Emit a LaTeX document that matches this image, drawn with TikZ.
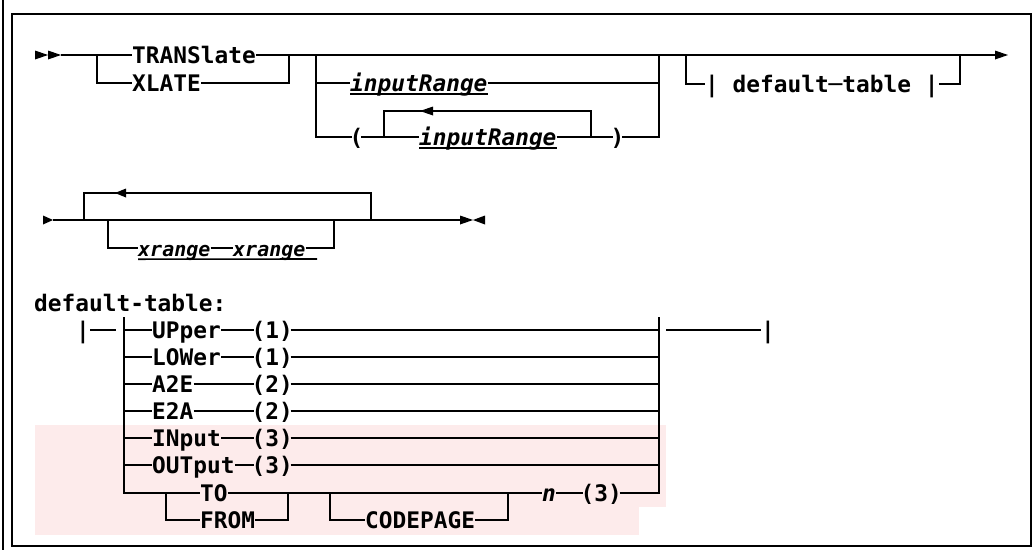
\documentclass[tikz,border=0pt]{standalone}
\usepackage{fontspec}
\setmainfont{DejaVu Sans Mono}
\definecolor{hlpink}{RGB}{253,235,235}
\tikzset{
  ln/.style={line width=1.8pt},
  ul/.style={line width=1.6pt},
  frm/.style={line width=1.1pt},
  kw/.style={inner sep=0pt, anchor=west, text height=16pt, text depth=0pt,
    font=\fontsize{22.8}{24}\selectfont\bfseries},
  var/.style={kw, font=\fontsize{22.8}{24}\selectfont\bfseries\itshape},
  varsm/.style={kw, font=\fontsize{20}{22}\selectfont\bfseries\itshape},
  par/.style={kw, inner xsep=-2.5pt},
  tip/.style={fill=black}
}
\begin{document}
\begin{tikzpicture}[x=1pt,y=-1pt]
\useasboundingbox (0,0) rectangle (1033,550);
% frame
\draw[frm] (3,0) -- (3,550);
\draw[frm] (12,14) rectangle (1031,546);
% highlight
\fill[hlpink] (35,425) rectangle (666,507);
\fill[hlpink] (35,507) rectangle (639,535);

% ---------- row 1 ----------
\fill[tip] (35,50.5) -- (48,55) -- (35,59.5) -- cycle;
\fill[tip] (48,50.5) -- (61,55) -- (48,59.5) -- cycle;
\coordinate (s1) at (61,55);
\node[kw] (TR) at (132,55) {TRANSlate};
\node[kw] (XL) at (132,83) {XLATE};
\coordinate (a1) at (97,55);
\coordinate (a2) at (289,55);
\coordinate (b1) at (316,55);
\coordinate (b2) at (659,55);
\coordinate (c1) at (686,55);
\coordinate (c2) at (960,55);
\coordinate (e1) at (995,55);
\draw[ln] (s1) -- (TR.west);
\draw[ln] (a1) |- (XL.west);
\draw[ln] (XL.east) -| (a2);
\draw[ln] (TR.east) -- (e1);
\fill[tip] (1008,55) -- (995,50.5) -- (995,59.5) -- cycle;
% group 2
\node[var] (IR1) at (350,83) {inputRange};
\node[par] (LP) at (352,137) {(};
\node[var] (IR2) at (419,137) {inputRange};
\node[par] (RP) at (613,137) {)};
\draw[ln] (b1) |- (IR1.west);
\draw[ln] (IR1.east) -| (b2);
\draw[ln] (b1) |- (LP.west);
\draw[ln] (LP.east) -- (IR2.west);
\draw[ln] (IR2.east) -- (RP.west);
\draw[ln] (RP.east) -| (b2);
\draw[ul] ([yshift=-3pt]IR1.south west) -- ([yshift=-3pt]IR1.south east);
\draw[ul] ([yshift=-3pt]IR2.south west) -- ([yshift=-3pt]IR2.south east);
\coordinate (l1) at (384,137);
\coordinate (l1t) at (384,111);
\coordinate (l2t) at (591,111);
\coordinate (l2) at (591,137);
\draw[ln] (l1) -- (l1t) -- (l2t) -- (l2);
\fill[tip] (420,111) -- (433,106.5) -- (433,115.5) -- cycle;
% group 3
\node[kw] (DT) at (705,84) {| default─table |};
\draw[ln] (c1) |- (DT.west);
\draw[ln] (DT.east) -| (c2);

% ---------- row 2 ----------
\fill[tip] (43,215.5) -- (53,220) -- (43,224.5) -- cycle;
\coordinate (s2) at (53,220);
\coordinate (e2) at (460,220);
\draw[ln] (s2) -- (e2);
\coordinate (m1) at (84,220);
\coordinate (m1t) at (84,193);
\coordinate (m2t) at (371,193);
\coordinate (m2) at (371,220);
\draw[ln] (m1) -- (m1t) -- (m2t) -- (m2);
\fill[tip] (115,193) -- (126,188.5) -- (126,197.5) -- cycle;
\node[varsm] (XR1) at (138,248) {xrange};
\node[varsm] (XR2) at (233,248) {xrange};
\coordinate (o1) at (108,220);
\coordinate (o2) at (334,220);
\draw[ln] (o1) |- (XR1.west);
\draw[ln] (XR1.east) -- (XR2.west);
\draw[ln] (XR2.east) -| (o2);
\coordinate (u2) at (317,259);
\draw[ul] ([yshift=-3pt]XR1.south west) -- (u2);
\fill[tip] (473,220) -- (460,215.5) -- (460,224.5) -- cycle;
\fill[tip] (473,220) -- (485,215.5) -- (485,224.5) -- cycle;

% ---------- default-table ----------
\node[kw] (DTH) at (34,303) {default-table:};
\node[kw] (bar1) at (76,330) {|};
\coordinate (d2) at (116,330);
\draw[ln] (bar1.east) -- (d2);
\coordinate (vL) at (124,317);
\coordinate (vR) at (659,317);
\node[kw] (bar2) at (761,330) {|};
\coordinate (x1) at (666,330);
\draw[ln] (x1) -- (bar2.west);

\foreach \i/\y/\k/\p in {1/330/UPper/(1), 2/357/LOWer/(1), 3/384/A2E/(2),
    4/411/E2A/(2), 5/438/INput/(3), 6/465/OUTput/(3)} {
  \node[kw] (k\i) at (152,\y) {\k};
  \node[par] (p\i) at (254,\y) {\p};
  \coordinate (L\i) at (124,\y);
  \coordinate (R\i) at (659,\y);
  \draw[ln] (L\i) -- (k\i.west);
  \draw[ln] (k\i.east) -- (p\i.west);
  \draw[ln] (p\i.east) -- (R\i);
}
% TO / FROM row
\node[kw] (TO) at (200,493) {TO};
\node[kw] (FR) at (200,520) {FROM};
\coordinate (t1) at (166,493);
\coordinate (t2) at (288,493);
\draw[ln] (vL) |- (TO.west);
\draw[ln] (t1) |- (FR.west);
\draw[ln] (FR.east) -| (t2);
\node[kw] (CP) at (365,520) {CODEPAGE};
\coordinate (cp1) at (330,493);
\coordinate (cp2) at (508,493);
\draw[ln] (cp1) |- (CP.west);
\draw[ln] (CP.east) -| (cp2);
\node[var] (nn) at (542,493) {n};
\node[par] (p7) at (583,493) {(3)};
\draw[ln] (TO.east) -- (nn.west);
\draw[ln] (nn.east) -- (p7.west);
\draw[ln] (p7.east) -| (vR);
\end{tikzpicture}
\end{document}
